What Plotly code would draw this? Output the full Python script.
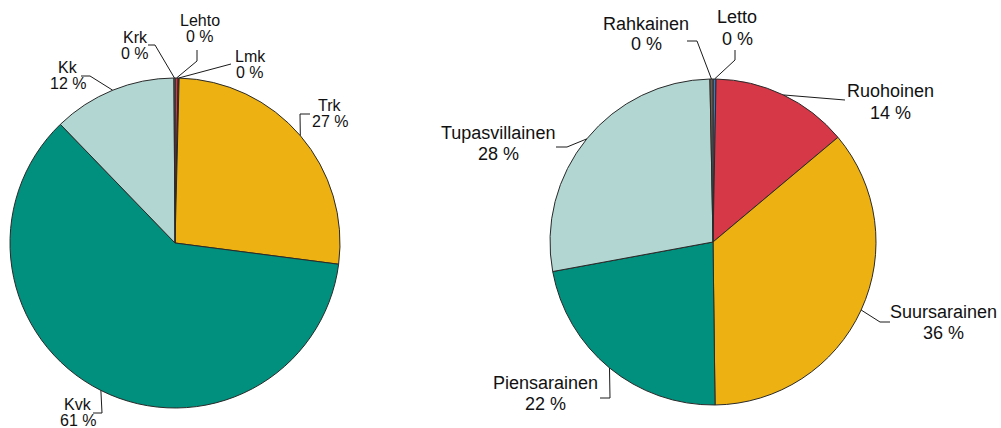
import math
import plotly.graph_objects as go

W, H = 1001, 428

# ---------------- data ----------------
left_labels = ["Lehto", "Lmk", "Trk", "Kvk", "Kk", "Krk"]
left_values = [0.3, 0.1, 26.6, 60.6, 12.1, 0.1]
left_colors = ["#D63848", "#7A2A30", "#EDB112", "#00907D", "#B2D7D3", "#6E8E8B"]

right_labels = ["Letto", "Ruohoinen", "Suursarainen", "Piensarainen", "Tupasvillainen", "Rahkainen"]
right_values = [0.3, 13.6, 35.9, 22.3, 27.6, 0.3]
right_colors = ["#3C7AC4", "#D63848", "#EDB112", "#00907D", "#B2D7D3", "#6C5A4A"]

# ---------------- style / layout ----------------
LEFT_BOX = (10, 340, 78, 408)     # pixel box of left pie (x0, x1, y0, y1)
RIGHT_BOX = (550, 876, 79, 405)
TEXT_COLOR = "#111111"
LINE_COLOR = "#1a1a1a"
FONT = "Liberation Sans, Arial, sans-serif"

# label placement: text centre (x, y) and leader elbow points after the slice edge
LEFT_LABEL_POS = {
    "Lehto": ((200, 28), [(197, 61), (197, 50)]),
    "Lmk": ((250, 64), [(231, 64)]),
    "Trk": ((330, 114), [(300, 114), (310, 114)]),
    "Kvk": ((78, 412), [(102, 413), (93, 413)]),
    "Kk": ((68, 75), [(90, 76), (81, 76)]),
    "Krk": ((135, 45), [(155, 45), (148, 45)]),
}
RIGHT_LABEL_POS = {
    "Letto": ((737, 28), [(735, 60), (735, 50)]),
    "Ruohoinen": ((890, 102), [(845, 100)]),
    "Suursarainen": ((943, 322), [(880, 322), (890, 322)]),
    "Piensarainen": ((545, 393), [(610, 398), (600, 398)]),
    "Tupasvillainen": ((498, 143), [(567, 147), (556, 147)]),
    "Rahkainen": ((646, 34), [(697, 41), (687, 41)]),
}


def px(x):
    return x / W


def py(y):
    return 1 - y / H


fig = go.Figure()
shapes = []
annotations = []


def add_pie(labels, values, colors, box, label_pos, fsize, spacing):
    x0, x1, y0, y1 = box
    fig.add_trace(go.Pie(
        labels=labels, values=values, sort=False, direction="clockwise",
        rotation=0, textinfo="none", hoverinfo="label+percent",
        marker=dict(colors=colors, line=dict(color="#2a2a2a", width=1)),
        domain=dict(x=[px(x0), px(x1)], y=[py(y1), py(y0)]),
        showlegend=False,
    ))
    cx, cy = (x0 + x1) / 2, (y0 + y1) / 2
    r = min(x1 - x0, y1 - y0) / 2
    total = sum(values)
    cum = 0.0
    for lab, v in zip(labels, values):
        mid = (cum + v / 2) / total
        cum += v
        th = 2 * math.pi * mid
        sx, sy = cx + r * math.sin(th), cy - r * math.cos(th)
        (tx, ty), pts = label_pos[lab]
        path = f"M {px(sx)},{py(sy)}" + "".join(f" L {px(a)},{py(b)}" for a, b in pts)
        shapes.append(dict(type="path", path=path, xref="paper", yref="paper",
                           line=dict(color=LINE_COLOR, width=1), layer="above"))
        pct = f"{round(v / total * 100)} %"
        for txt, yy in ((lab, ty - spacing / 2), (pct, ty + spacing / 2)):
            annotations.append(dict(
                text=txt, x=px(tx), y=py(yy), xref="paper", yref="paper",
                xanchor="center", yanchor="middle", showarrow=False,
                font=dict(size=fsize, color=TEXT_COLOR, family=FONT),
            ))


add_pie(left_labels, left_values, left_colors, LEFT_BOX, LEFT_LABEL_POS, 16, 16)
add_pie(right_labels, right_values, right_colors, RIGHT_BOX, RIGHT_LABEL_POS, 18, 21)

fig.update_layout(
    width=W, height=H,
    margin=dict(l=0, r=0, t=0, b=0),
    paper_bgcolor="white", plot_bgcolor="white",
    shapes=shapes, annotations=annotations,
    font=dict(family=FONT, color=TEXT_COLOR),
)

fig.write_html(
    "out.html",
    config={"displayModeBar": False},
    post_script="document.body.style.margin='0px';document.body.style.overflow='hidden';",
)
